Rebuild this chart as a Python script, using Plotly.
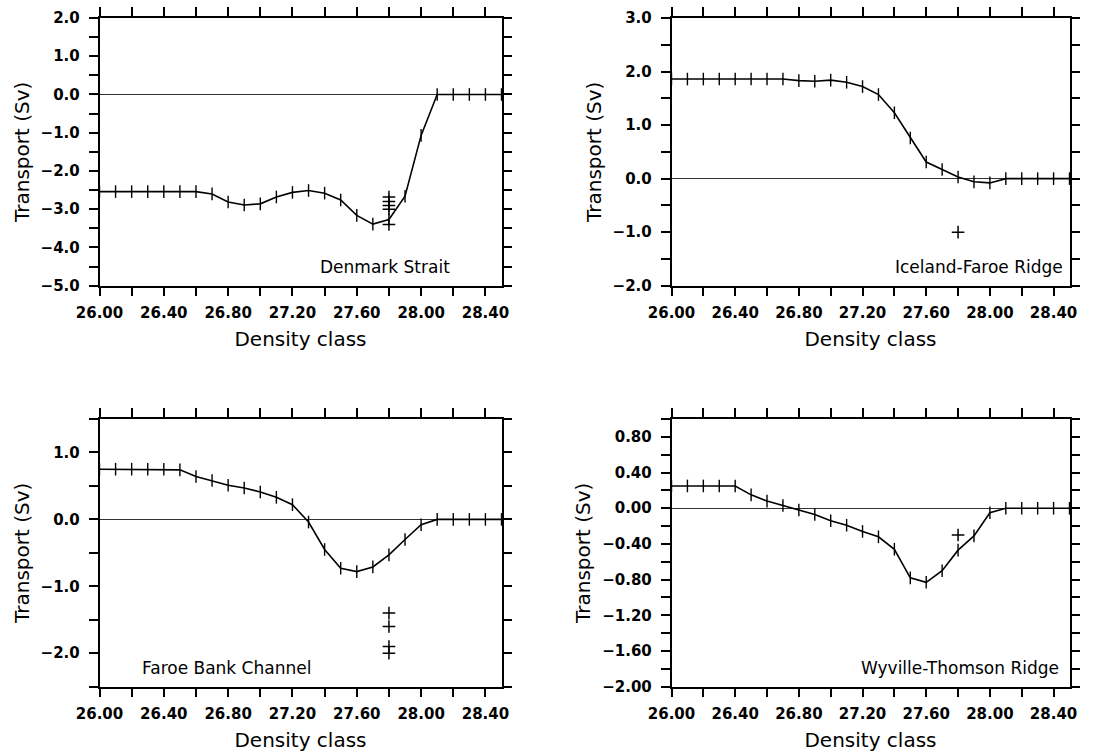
import plotly.graph_objects as go

# Density classes (sigma-theta bins)
density = [26.0, 26.1, 26.2, 26.3, 26.4, 26.5, 26.6, 26.7, 26.8, 26.9,
           27.0, 27.1, 27.2, 27.3, 27.4, 27.5, 27.6, 27.7, 27.8, 27.9,
           28.0, 28.1, 28.2, 28.3, 28.4, 28.5]

# Transport per density class (Sv) at each section
denmark_strait = [-2.54, -2.54, -2.54, -2.54, -2.54, -2.54, -2.54, -2.60, -2.81, -2.89,
                  -2.86, -2.68, -2.56, -2.51, -2.58, -2.76, -3.16, -3.39, -3.27, -2.66,
                  -1.07, 0.0, 0.0, 0.0, 0.0, 0.0]
iceland_faroe = [1.86, 1.86, 1.86, 1.86, 1.86, 1.86, 1.86, 1.86, 1.83, 1.82,
                 1.84, 1.80, 1.72, 1.57, 1.23, 0.76, 0.31, 0.17, 0.03, -0.06,
                 -0.08, 0.0, 0.0, 0.0, 0.0, 0.0]
faroe_bank = [0.75, 0.75, 0.75, 0.75, 0.75, 0.74, 0.64, 0.58, 0.51, 0.47,
              0.41, 0.33, 0.22, -0.04, -0.45, -0.73, -0.78, -0.71, -0.53, -0.30,
              -0.08, 0.0, 0.0, 0.0, 0.0, 0.0]
wyville_thomson = [0.25, 0.25, 0.25, 0.25, 0.25, 0.15, 0.08, 0.03, -0.02, -0.07,
                   -0.14, -0.19, -0.26, -0.32, -0.46, -0.78, -0.83, -0.70, -0.47, -0.31,
                   -0.05, 0.0, 0.0, 0.0, 0.0, 0.0]

# Observed overflow estimates, all placed at the 27.8 class
obs_density = 27.8
obs_denmark = [-2.68, -2.80, -2.90, -3.00, -3.40]
obs_iceland = [-1.00]
obs_faroe_bank = [-1.40, -1.60, -1.90, -2.00]
obs_wyville = [-0.30]

section_names = ["Denmark Strait", "Iceland-Faroe Ridge",
                 "Faroe Bank Channel", "Wyville-Thomson Ridge"]

W, H = 1096, 754
FONT = "DejaVu Sans"


def px_x(p):
    return p / W


def px_y(p):
    return 1 - p / H


x_domains = [[px_x(99.5), px_x(501.5)], [px_x(671.5), px_x(1069.5)]]
y_domains = [[px_y(285.7), px_y(18)], [px_y(686.7), px_y(419)]]

panels = [
    dict(y=denmark_strait, obs=obs_denmark, yrange=[-5, 2], dtick=1.0, minor=0.5, fmt=".1f",
         col=0, row=0, label=section_names[0], lx=452, ly=266.7, anchor="right"),
    dict(y=iceland_faroe, obs=obs_iceland, yrange=[-2, 3], dtick=1.0, minor=0.5, fmt=".1f",
         col=1, row=0, label=section_names[1], lx=1065, ly=266.7, anchor="right"),
    dict(y=faroe_bank, obs=obs_faroe_bank, yrange=[-2.5, 1.5], dtick=1.0, minor=0.5, fmt=".1f",
         col=0, row=1, label=section_names[2], lx=140, ly=668.3, anchor="left"),
    dict(y=wyville_thomson, obs=obs_wyville, yrange=[-2, 1], dtick=0.4, minor=0.2, fmt=".2f",
         col=1, row=1, label=section_names[3], lx=1061, ly=668.3, anchor="right"),
]

fig = go.Figure()
layout = dict(
    width=W, height=H,
    margin=dict(l=0, r=0, t=0, b=0),
    paper_bgcolor="white", plot_bgcolor="white",
    showlegend=False,
    font=dict(family=FONT, color="black"),
)
annotations = []

for i, p in enumerate(panels):
    n = i + 1
    xa = "x" if n == 1 else f"x{n}"
    ya = "y" if n == 1 else f"y{n}"

    fig.add_trace(go.Scatter(
        x=density, y=p["y"], xaxis=xa, yaxis=ya,
        mode="lines+markers",
        line=dict(color="black", width=1.6),
        marker=dict(symbol="line-ns", size=9, color="black",
                    line=dict(color="black", width=1.4)),
        cliponaxis=False,
        hoverinfo="x+y",
    ))
    fig.add_trace(go.Scatter(
        x=[obs_density] * len(p["obs"]), y=p["obs"], xaxis=xa, yaxis=ya,
        mode="markers",
        marker=dict(symbol="cross-thin", size=9, color="black",
                    line=dict(color="black", width=1.5)),
        hoverinfo="x+y",
    ))

    axis_common = dict(
        showline=True, linecolor="black", linewidth=1.5, mirror="allticks",
        ticks="outside", ticklen=9, tickwidth=1.5, tickcolor="black",
        showgrid=False, automargin=False,
        tickfont=dict(family=FONT, size=15, color="black", weight="bold"),
        title_font=dict(family=FONT, size=20, color="black"),
    )
    layout["xaxis" + ("" if n == 1 else str(n))] = dict(
        axis_common,
        domain=x_domains[p["col"]], anchor=ya,
        range=[26.0, 28.5], tick0=26.0, dtick=0.4, tickformat=".2f",
        minor=dict(ticks="outside", ticklen=9, tickwidth=1.5, tickcolor="black", dtick=0.2, tick0=26.0),
        zeroline=False,
        ticklabelstandoff=4,
        title=dict(text="Density class", standoff=11),
    )
    layout["yaxis" + ("" if n == 1 else str(n))] = dict(
        axis_common,
        domain=y_domains[p["row"]], anchor=xa,
        range=p["yrange"], tick0=0, dtick=p["dtick"], tickformat=p["fmt"],
        minor=dict(ticks="outside", ticklen=9, tickwidth=1.5, tickcolor="black", dtick=p["minor"], tick0=0),
        zeroline=True, zerolinecolor="#333333", zerolinewidth=1,
        ticklabelstandoff=6,
        title=dict(text="Transport (Sv)", standoff=6),
    )
    annotations.append(dict(
        text=p["label"], xref="paper", yref="paper",
        x=px_x(p["lx"]), y=px_y(p["ly"]),
        xanchor=p["anchor"], yanchor="middle", showarrow=False,
        font=dict(family=FONT, size=17, color="black"),
    ))

layout["annotations"] = annotations
fig.update_layout(**layout)
fig.write_html("out.html")
